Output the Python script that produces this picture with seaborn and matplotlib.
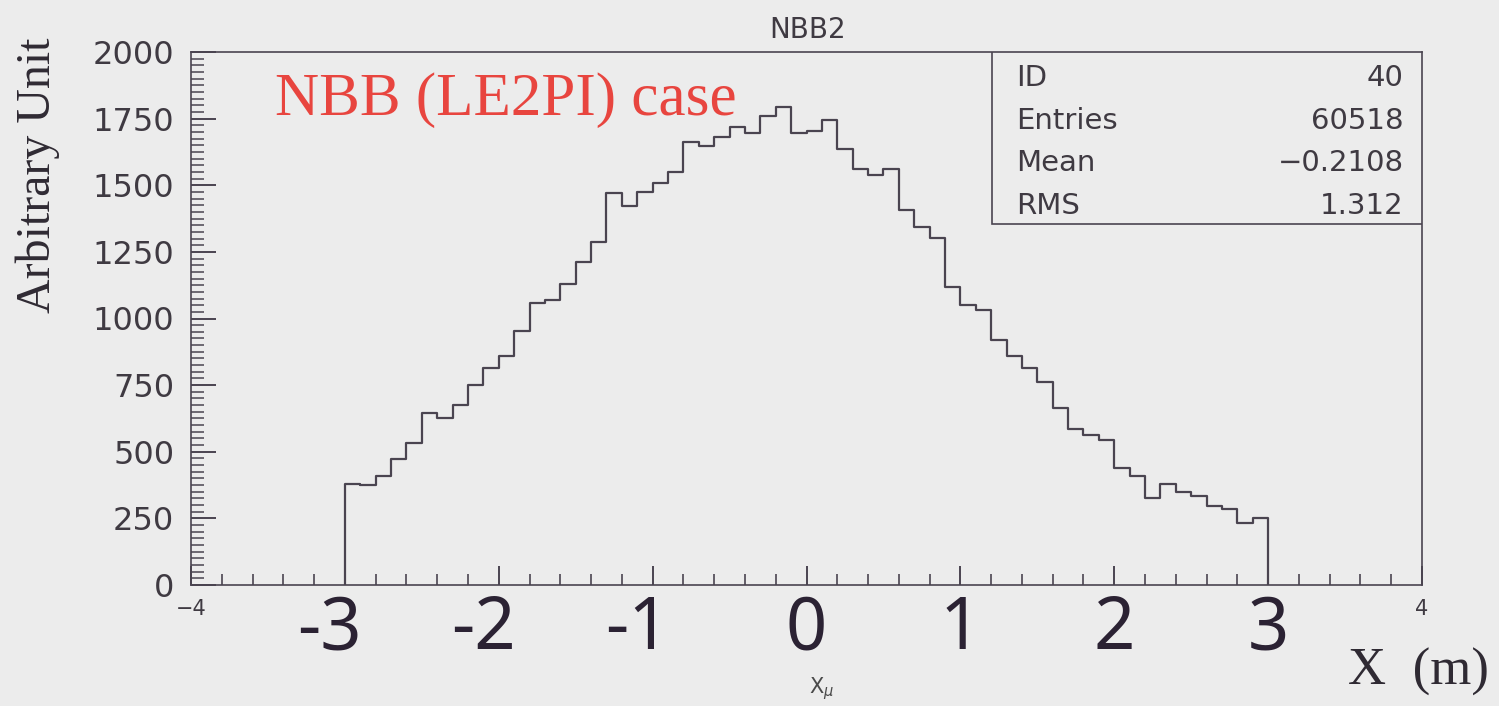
import numpy as np
import pandas as pd
import matplotlib
matplotlib.use("Agg")
import matplotlib.pyplot as plt
from matplotlib.ticker import MultipleLocator, FixedLocator
from matplotlib.patches import Rectangle
import seaborn as sns

# ---- data ----
bin_edges_start = -3.0
bin_width = 0.1
counts = [379, 375, 409, 472, 532, 647, 628, 675, 752, 815,
          859, 952, 1059, 1071, 1128, 1211, 1288, 1470, 1422, 1476,
          1507, 1551, 1664, 1647, 1680, 1720, 1695, 1760, 1795, 1695,
          1705, 1745, 1635, 1560, 1538, 1560, 1407, 1345, 1301, 1120,
          1052, 1033, 921, 861, 815, 761, 665, 587, 562, 543,
          440, 408, 327, 380, 348, 333, 296, 286, 233, 252]
y_ticks = [0, 250, 500, 750, 1000, 1250, 1500, 1750, 2000]
printed_x_ticks = [-4, 4]
hand_x_ticks = [-3, -2, -1, 0, 1, 2, 3]
stats_names = ["ID", "Entries", "Mean", "RMS"]
stats_values = ["40", "60518", "\u22120.2108", "1.312"]

n = len(counts)
edges = [round(bin_edges_start + bin_width * i, 6) for i in range(n + 1)]
centers = [(edges[i] + edges[i + 1]) / 2 for i in range(n)]
df = pd.DataFrame({"x": centers, "w": counts})

bg = "#ececec"
sns.set_style("ticks")
plt.rcParams["font.family"] = ["DejaVu Sans"]

fig = plt.figure(figsize=(14.99, 7.06), dpi=100, facecolor=bg)
W, H = 1499, 706
L, R, T, B = 191, 1422, 52, 585
ax = fig.add_axes([L / W, 1 - B / H, (R - L) / W, (B - T) / H])
ax.set_facecolor(bg)

line_c = "#4a4450"
sns.histplot(data=df, x="x", weights="w", bins=edges, element="step",
             fill=False, color=line_c, linewidth=1.6, ax=ax)
# close the outer edges of the histogram down to zero
ax.vlines([edges[0], edges[-1]], 0, [counts[0], counts[-1]],
          color=line_c, linewidth=1.6)

ax.set_xlim(-4, 4)
ax.set_ylim(0, 2000)
ax.set_xlabel("")
ax.set_ylabel("")

frame_c = "#4a4450"
for s in ax.spines.values():
    s.set_color(frame_c)
    s.set_linewidth(1.2)

ax.xaxis.set_major_locator(FixedLocator(list(range(-4, 5))))
ax.set_xticklabels(["\u22124" if v == -4 else ("4" if v == 4 else "") for v in range(-4, 5)])
ax.xaxis.set_minor_locator(MultipleLocator(0.2))
ax.yaxis.set_major_locator(FixedLocator(y_ticks))
ax.set_yticklabels([str(v) for v in y_ticks])
ax.yaxis.set_minor_locator(MultipleLocator(25))

ax.tick_params(axis="x", which="major", direction="in", length=14, width=1.4,
               color=frame_c, labelsize=15, labelcolor="#3f3a42", pad=10,
               top=False)
ax.tick_params(axis="x", which="minor", direction="in", length=8, width=1.2,
               color=frame_c, top=False)
ax.tick_params(axis="y", which="major", direction="in", length=18, width=1.4,
               color=frame_c, labelsize=23, labelcolor="#3f3a42", pad=12,
               right=False)
ax.tick_params(axis="y", which="minor", direction="in", length=9, width=1.1,
               color=frame_c, right=False)

# handwritten-like axis numbers
for v in hand_x_ticks:
    label = f"-{abs(v)}" if v < 0 else str(v)
    xpos = v - 0.1 if v < 0 else v
    ax.text(xpos, -0.085, label, transform=ax.get_xaxis_transform(),
            ha="center", va="center", fontsize=52, color="#2b2233",
            family=["Noto Sans", "DejaVu Sans"])

# stats box
ax.add_patch(Rectangle((0.651, 0.677), 0.349, 0.323, transform=ax.transAxes,
                       facecolor=bg, edgecolor=frame_c, linewidth=1.2, zorder=5))
rows_y = [0.952, 0.871, 0.792, 0.712]
for name, val, yy in zip(stats_names, stats_values, rows_y):
    ax.text(0.670, yy, name, transform=ax.transAxes, ha="left", va="center",
            fontsize=21, color="#3f3a42", zorder=6)
    ax.text(0.985, yy, val, transform=ax.transAxes, ha="right", va="center",
            fontsize=21, color="#3f3a42", zorder=6)

# red annotation
ax.text(0.068, 0.91, "NBB (LE2PI) case", transform=ax.transAxes,
        ha="left", va="center", fontsize=44, color="#e8453f",
        family=["Liberation Serif", "DejaVu Serif"])

# title
fig.text(808 / W, 1 - 30 / H, "NBB2", ha="center", va="center",
         fontsize=20, color="#3f3a42")

# y label
fig.text(38 / W, 1 - 175 / H, "Arbitrary Unit", rotation=90, ha="center",
         va="center", fontsize=34.5, color="#2f2a33",
         family=["Liberation Serif", "DejaVu Serif"])

# x labels
fig.text(1418 / W, 1 - 672 / H, "X  (m)", ha="center", va="center",
         fontsize=38, color="#2f2a33", family=["Liberation Serif", "DejaVu Serif"])
fig.text(822 / W, 1 - 689 / H, "X$_\\mu$", ha="center", va="center",
         fontsize=15, color="#4a4a4a")

fig.savefig("out.png", dpi=100, facecolor=bg)
